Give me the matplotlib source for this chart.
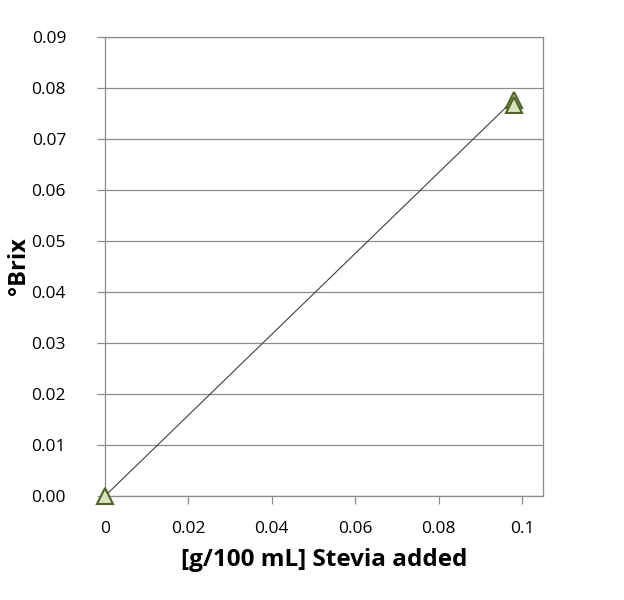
import matplotlib.pyplot as plt

# Stevia added [g/100 mL] vs °Brix
stevia = [0.0, 0.098, 0.098]
brix = [0.0, 0.0777, 0.0767]
x_ticks = [0, 0.02, 0.04, 0.06, 0.08, 0.1]
x_labels = ['0', '0.02', '0.04', '0.06', '0.08', '0.1']
y_ticks = [0.00, 0.01, 0.02, 0.03, 0.04, 0.05, 0.06, 0.07, 0.08, 0.09]

plt.rcParams['font.family'] = ['Open Sans', 'DejaVu Sans']

fig = plt.figure(figsize=(6.24, 6.0), dpi=100)
ax = fig.add_axes([105 / 624, 1 - 496 / 600, (543 - 105) / 624, (496 - 37) / 600])

ax.plot(stevia, brix, color='#404040', lw=0.8, zorder=2)
ax.plot(stevia, brix, linestyle='none', marker='^', markersize=11, clip_on=False,
        markerfacecolor='#d7e4bd', markeredgecolor='#4f6228', markeredgewidth=1.5, zorder=3)

ax.set_xlim(0, 0.105)
ax.set_ylim(0, 0.09)
ax.set_xticks(x_ticks)
ax.set_xticklabels(x_labels)
ax.set_yticks(y_ticks)
ax.set_yticklabels(['%.2f' % v for v in y_ticks])
ax.yaxis.grid(True, color='#8c8c8c', lw=0.9)
ax.set_axisbelow(True)

for s in ax.spines.values():
    s.set_color('#8c8c8c')
    s.set_linewidth(0.9)
ax.tick_params(axis='both', colors='#8c8c8c', labelcolor='black', labelsize=12.5,
               direction='out', length=6, width=0.9)
ax.tick_params(axis='y', pad=22)
ax.tick_params(axis='x', pad=12)

ax.set_xlabel('[g/100 mL] Stevia added', fontsize=17.5, fontweight='bold', labelpad=8)
ax.set_ylabel('°Brix', fontsize=17, fontweight='bold')
ax.yaxis.set_label_coords(-0.17, 0.5)

plt.savefig('out.png', dpi=100)
